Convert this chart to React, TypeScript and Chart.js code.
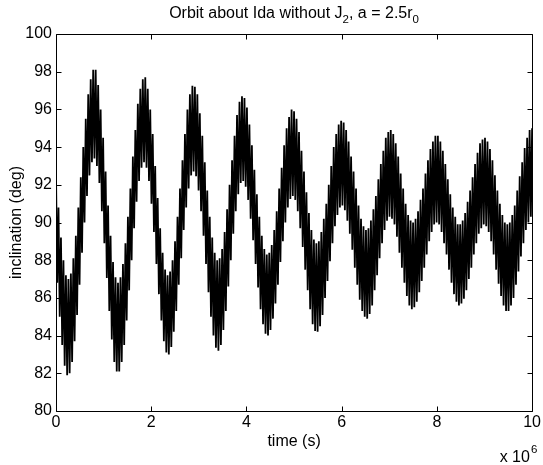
import React, { useEffect, useRef } from "react";
import { Chart, registerables } from "chart.js";

Chart.register(...registerables);

// ---- data (time in seconds, inclination in degrees) ----
const END_TIME = 1e7;
// local maxima of the fast oscillation, evenly spaced over 0 .. 1e7 s
const upperPeaks = [
  92.6, 90.8, 89.2, 88.0, 87.2, 87.0, 87.3, 88.1, 89.3, 90.8,
  92.4, 94.0, 95.5, 96.8, 97.6, 98.1, 98.1, 97.3, 96.0, 94.5,
  92.7, 90.9, 89.3, 87.9, 87.1, 86.8, 87.1, 87.8, 88.9, 90.3,
  91.8, 93.5, 94.9, 96.3, 97.1, 97.6, 97.7, 97.1, 96.0, 94.7,
  93.0, 91.3, 89.7, 88.4, 87.5, 87.2, 87.4, 88.0, 89.0, 90.3,
  91.8, 93.3, 94.7, 96.0, 96.8, 97.25, 97.2, 96.8, 95.8, 94.6,
  93.2, 91.7, 90.3, 89.2, 88.4, 88.0, 88.1, 88.6, 89.5, 90.7,
  92.0, 93.3, 94.6, 95.7, 96.4, 96.7, 96.6, 96.1, 95.2, 94.1,
  92.8, 91.5, 90.3, 89.3, 88.6, 88.3, 88.4, 88.8, 89.6, 90.6,
  91.8, 92.9, 94.1, 95.0, 95.6, 96.0, 95.9, 95.5, 94.8, 93.8,
  92.7, 91.6, 90.5, 89.6, 89.1, 88.9, 89.0, 89.5, 90.2, 91.0,
  92.0, 93.0, 94.0, 94.7, 95.2, 95.4, 95.3, 94.9, 94.3, 93.5,
  92.7, 91.8, 90.9, 90.2, 89.8, 89.6, 89.7, 90.1, 90.7, 91.4,
  92.3, 93.1, 93.8, 94.5, 94.8, 94.9, 94.7, 94.2, 93.5, 92.6,
  91.8, 91.0, 90.4, 90.1, 90.0, 90.2, 90.6, 91.2, 91.8, 92.6,
  93.3, 93.9, 94.3, 94.6, 94.6, 94.3, 93.8, 93.1, 92.3, 91.5,
  90.8, 90.3, 89.9, 89.9, 90.1, 90.5, 91.1, 91.7, 92.4, 93.1,
  93.7, 94.2, 94.4, 94.5, 94.3, 93.9, 93.3, 92.5, 91.7, 91.0,
  90.4, 90.0, 89.9, 90.0, 90.4, 90.9, 91.7, 92.45, 93.2, 93.95,
  94.5, 94.9, 95.0,
];
// local minima of the fast oscillation, each between two maxima
const lowerTroughs = [
  86.8, 85.0, 83.5, 82.4, 81.9, 82.0, 82.6, 83.7, 85.1, 86.7,
  88.4, 90.0, 91.4, 92.5, 93.2, 93.4, 93.0, 92.1, 90.6, 88.9,
  87.05, 85.3, 83.8, 82.6, 82.1, 82.1, 82.6, 83.5, 84.8, 86.4,
  88.0, 89.7, 91.1, 92.2, 92.9, 93.2, 92.9, 92.2, 91.0, 89.5,
  87.8, 86.2, 84.8, 83.7, 83.1, 83.0, 83.4, 84.2, 85.3, 86.7,
  88.1, 89.6, 90.8, 91.8, 92.5, 92.7, 92.45, 91.7, 90.6, 89.3,
  87.8, 86.3, 85.0, 84.0, 83.35, 83.2, 83.5, 84.3, 85.3, 86.6,
  88.0, 89.4, 90.6, 91.5, 92.1, 92.2, 91.9, 91.2, 90.2, 89.06,
  87.8, 86.55, 85.4, 84.6, 84.1, 84.0, 84.3, 84.9, 85.7, 86.7,
  87.9, 89.0, 90.0, 90.8, 91.25, 91.4, 91.2, 90.6, 89.7, 88.7,
  87.5, 86.4, 85.4, 84.6, 84.25, 84.2, 84.5, 85.1, 86.0, 86.9,
  87.95, 88.9, 89.8, 90.4, 90.8, 90.9, 90.65, 90.1, 89.4, 88.55,
  87.6, 86.7, 85.9, 85.3, 85.0, 84.9, 85.15, 85.6, 86.4, 87.2,
  88.1, 88.9, 89.6, 90.1, 90.3, 90.2, 89.9, 89.25, 88.4, 87.6,
  86.8, 86.1, 85.6, 85.4, 85.5, 85.8, 86.3, 86.9, 87.6, 88.3,
  89.0, 89.5, 89.9, 90.0, 89.9, 89.5, 88.9, 88.3, 87.5, 86.8,
  86.2, 85.8, 85.6, 85.7, 85.95, 86.4, 87.0, 87.6, 88.3, 88.9,
  89.4, 89.7, 89.9, 89.8, 89.5, 89.0, 88.3, 87.5, 86.75, 86.1,
  85.6, 85.3, 85.3, 85.6, 86.0, 86.7, 87.4, 88.2, 88.9, 89.6,
  90.0, 90.3,
];

const xTickValues = [0, 2e6, 4e6, 6e6, 8e6, 1e7];
const xTickLabels = ["0", "2", "4", "6", "8", "10"];
const yTickValues = [80, 82, 84, 86, 88, 90, 92, 94, 96, 98, 100];
const yTickLabels = ["80", "82", "84", "86", "88", "90", "92", "94", "96", "98", "100"];

const TITLE_SEGMENTS = [
  { text: "Orbit about Ida without J", sub: false },
  { text: "2", sub: true },
  { text: ", a = 2.5r", sub: false },
  { text: "0", sub: true },
];
const X_LABEL = "time (s)";
const Y_LABEL = "inclination (deg)";
const EXPONENT_BASE = "x 10";
const EXPONENT_POWER = "6";

const FONT_FAMILY = '"Liberation Sans", Arial, Helvetica, sans-serif';
const FS = 16;
const TITLE_FS = 16;
const SUB_FS = 11.5;

function buildPoints() {
  const values: number[] = [];
  for (let i = 0; i < upperPeaks.length; i++) {
    values.push(upperPeaks[i]);
    if (i < lowerTroughs.length) values.push(lowerTroughs[i]);
  }
  const step = END_TIME / (values.length - 1);
  return values.map((y, i) => ({ x: i * step, y }));
}

const decorPlugin = {
  id: "matlabDecor",
  afterDraw(chart: any) {
    const { ctx, chartArea: a, scales } = chart;
    const xs = scales.x;
    const ys = scales.y;
    const L = Math.round(a.left) + 0.5;
    const R = Math.round(a.right) + 0.5;
    const T = Math.round(a.top) + 0.5;
    const B = Math.round(a.bottom) + 0.5;
    const TL = 5;
    ctx.save();
    ctx.strokeStyle = "#000";
    ctx.lineWidth = 1;
    ctx.beginPath();
    ctx.rect(L, T, R - L, B - T);
    xTickValues.forEach((v) => {
      const px = Math.round(xs.getPixelForValue(v)) + 0.5;
      ctx.moveTo(px, B);
      ctx.lineTo(px, B - TL);
      ctx.moveTo(px, T);
      ctx.lineTo(px, T + TL);
    });
    yTickValues.forEach((v) => {
      const py = Math.round(ys.getPixelForValue(v)) + 0.5;
      ctx.moveTo(L, py);
      ctx.lineTo(L + TL, py);
      ctx.moveTo(R, py);
      ctx.lineTo(R - TL, py);
    });
    ctx.stroke();

    // title with subscripts
    ctx.fillStyle = "#000";
    ctx.textBaseline = "alphabetic";
    ctx.textAlign = "left";
    const widths = TITLE_SEGMENTS.map((s) => {
      ctx.font = `${s.sub ? SUB_FS : TITLE_FS}px ${FONT_FAMILY}`;
      return ctx.measureText(s.text).width;
    });
    const total = widths.reduce((p, c) => p + c, 0);
    let x = (a.left + a.right) / 2 - total / 2;
    const baseY = 18;
    TITLE_SEGMENTS.forEach((s, i) => {
      ctx.font = `${s.sub ? SUB_FS : TITLE_FS}px ${FONT_FAMILY}`;
      ctx.fillText(s.text, x, s.sub ? baseY + 5 : baseY);
      x += widths[i];
    });

    // exponent label
    ctx.font = `${FS}px ${FONT_FAMILY}`;
    const wb = ctx.measureText(EXPONENT_BASE).width;
    ctx.font = `${SUB_FS}px ${FONT_FAMILY}`;
    const wp = ctx.measureText(EXPONENT_POWER).width;
    const ex = a.right - wb + 1 - wp / 2;
    ctx.font = `${FS}px ${FONT_FAMILY}`;
    ctx.fillText(EXPONENT_BASE, ex, 462);
    ctx.font = `${SUB_FS}px ${FONT_FAMILY}`;
    ctx.fillText(EXPONENT_POWER, ex + wb + 1, 453);
    ctx.restore();
  },
};

export default function App() {
  const ref = useRef<HTMLCanvasElement | null>(null);
  useEffect(() => {
    if (!ref.current) return;
    const font = { family: FONT_FAMILY, size: FS };
    const chart = new Chart(ref.current, {
      type: "line",
      data: {
        datasets: [
          {
            data: buildPoints(),
            borderColor: "#000",
            borderWidth: 1.8,
            pointRadius: 0,
            tension: 0,
            fill: false,
            clip: 0,
          } as any,
        ],
      },
      options: {
        animation: false,
        responsive: false,
        events: [],
        layout: { padding: { top: 34, right: 10, left: 0, bottom: 0 } },
        plugins: {
          legend: { display: false },
          title: { display: false },
          tooltip: { enabled: false },
        },
        scales: {
          x: {
            type: "linear",
            min: 0,
            max: END_TIME,
            afterBuildTicks: (s: any) => {
              s.ticks = xTickValues.map((v) => ({ value: v }));
            },
            afterFit: (s: any) => {
              s.height = 54;
            },
            ticks: {
              autoSkip: false,
              maxRotation: 0,
              color: "#000",
              font,
              padding: 2,
              callback: (_v: any, i: number) => xTickLabels[i],
            },
            grid: { display: false, drawTicks: false },
            border: { display: false },
            title: {
              display: true,
              text: X_LABEL,
              color: "#000",
              font,
              padding: { top: 0, bottom: 14 },
            },
          },
          y: {
            type: "linear",
            min: 80,
            max: 100,
            afterBuildTicks: (s: any) => {
              s.ticks = yTickValues.map((v) => ({ value: v }));
            },
            afterFit: (s: any) => {
              s.width = 56;
            },
            ticks: {
              autoSkip: false,
              color: "#000",
              font,
              padding: 4,
              callback: (_v: any, i: number) => yTickLabels[i],
            },
            grid: { display: false, drawTicks: false },
            border: { display: false },
            title: {
              display: true,
              text: Y_LABEL,
              color: "#000",
              font,
              padding: { top: 7, bottom: 0 },
            },
          },
        },
      },
      plugins: [decorPlugin],
    } as any);
    return () => chart.destroy();
  }, []);
  return (
    <div
      style={{
        position: "fixed",
        left: 0,
        top: 0,
        width: 543,
        height: 465,
        background: "#fff",
      }}
    >
      <canvas ref={ref} width={543} height={465} style={{ display: "block" }} />
    </div>
  );
}
